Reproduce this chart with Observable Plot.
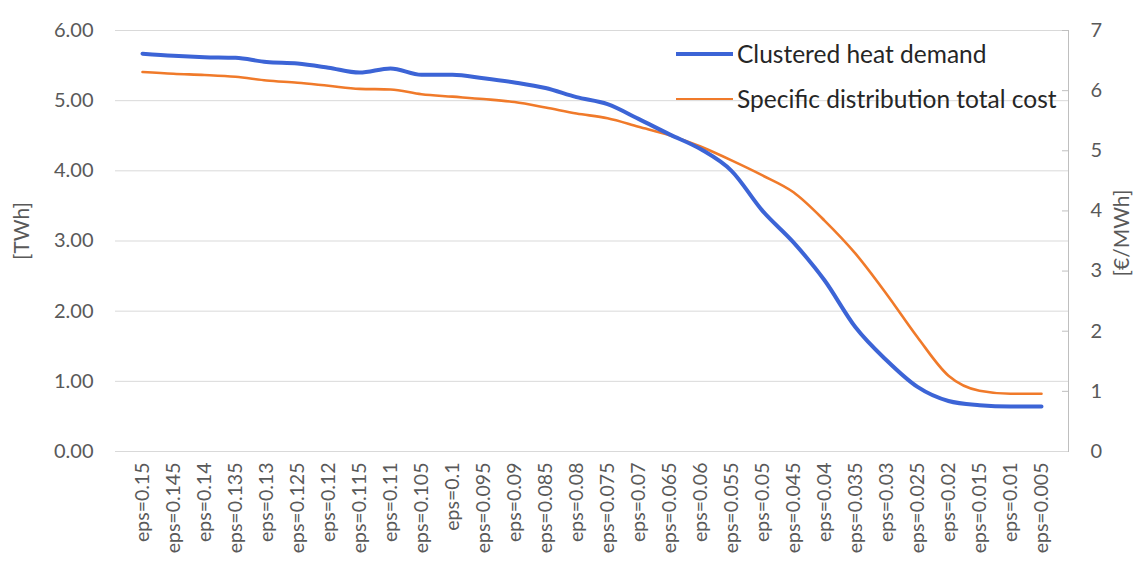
<!DOCTYPE html>
<html>
<head>
<meta charset="utf-8">
<script src="https://cdn.jsdelivr.net/npm/d3@7"></script>
<script src="https://cdn.jsdelivr.net/npm/@observablehq/plot@0.6"></script>
<style>
  html, body { margin: 0; padding: 0; background: #fff; }
  #wrap { position: relative; width: 1140px; height: 568px; font-family: Lato, "Noto Sans", sans-serif; }
  #legend { position: absolute; left: 676px; top: 31px; font-size: 24.5px; color: #262626; line-height: 45px; }
  #legend .row { display: flex; align-items: center; white-space: nowrap; }
  #legend .sw { display: inline-block; width: 57px; margin-right: 4px; }
</style>
</head>
<body>
<div id="wrap">
  <div id="chart"></div>
  <div id="legend"></div>
</div>
<script>
const categories = ["eps=0.15","eps=0.145","eps=0.14","eps=0.135","eps=0.13","eps=0.125","eps=0.12","eps=0.115","eps=0.11","eps=0.105","eps=0.1","eps=0.095","eps=0.09","eps=0.085","eps=0.08","eps=0.075","eps=0.07","eps=0.065","eps=0.06","eps=0.055","eps=0.05","eps=0.045","eps=0.04","eps=0.035","eps=0.03","eps=0.025","eps=0.02","eps=0.015","eps=0.01","eps=0.005"];
const heatDemand = [5.67,5.64,5.62,5.61,5.55,5.53,5.47,5.40,5.46,5.37,5.37,5.32,5.26,5.18,5.05,4.95,4.74,4.52,4.31,4.00,3.43,2.98,2.44,1.77,1.30,0.92,0.72,0.66,0.64,0.64];
const distCost = [6.31,6.28,6.26,6.23,6.17,6.13,6.08,6.03,6.02,5.94,5.90,5.86,5.81,5.72,5.62,5.54,5.40,5.26,5.07,4.84,4.59,4.31,3.84,3.29,2.62,1.90,1.26,1.01,0.96,0.96];
const leftTicks = [0,1,2,3,4,5,6];
const rightTicks = [0,1,2,3,4,5,6,7];
const seriesNames = ["Clustered heat demand","Specific distribution total cost"];
const colors = ["#3c64d6","#f07a2a"];

const LEFT_MAX = 6, RIGHT_MAX = 7;
const k = LEFT_MAX / RIGHT_MAX;
const rows = categories.map((c, i) => ({cat: c, heat: heatDemand[i], cost: distCost[i] * k}));

const axisFont = {fontSize: 20, fill: "#595959"};

const plot = Plot.plot({
  width: 1140,
  height: 568,
  marginLeft: 115,
  marginRight: 72,
  marginTop: 30,
  marginBottom: 117,
  style: {fontFamily: "Lato, 'Noto Sans', sans-serif", background: "#fff", color: "#595959"},
  x: {type: "point", domain: categories, padding: 0.5},
  y: {domain: [0, LEFT_MAX]},
  marks: [
    Plot.gridY(leftTicks, {stroke: "#d9d9d9", strokeOpacity: 1, strokeWidth: 1}),
    Plot.axisY(leftTicks, {anchor: "left", tickSize: 0, tickPadding: 22, tickFormat: d => d.toFixed(2), label: null, ...axisFont}),
    Plot.axisY(rightTicks.map(d => d * k), {anchor: "right", tickSize: 0, tickPadding: 22, tickFormat: d => String(Math.round(d / k)), label: null, ...axisFont}),
    Plot.tickY(rightTicks.map(d => d * k), {y: d => d, frameAnchor: "right", stroke: "#bfbfbf", insetLeft: 1140 - 115 - 72 - 6}),
    Plot.axisX({anchor: "bottom", tickSize: 0, tickPadding: 11, tickRotate: -90, label: null, fontSize: 19.5, fill: "#595959"}),
    Plot.ruleY([0], {stroke: "#d9d9d9"}),
    Plot.frame({anchor: "right", stroke: "#bfbfbf"}),
    Plot.text(["[TWh]"], {frameAnchor: "left", textAnchor: "middle", dx: -93, dy: -10, rotate: -90, fontSize: 21, fill: "#595959"}),
    Plot.text(["[€/MWh]"], {frameAnchor: "right", textAnchor: "middle", dx: 54, dy: -8, rotate: -90, fontSize: 21, fill: "#595959"}),
    Plot.line(rows, {x: "cat", y: "cost", stroke: colors[1], strokeWidth: 2.6, curve: "monotone-x"}),
    Plot.line(rows, {x: "cat", y: "heat", stroke: colors[0], strokeWidth: 4, curve: "monotone-x"})
  ]
});
document.getElementById("chart").appendChild(plot);

const legend = document.getElementById("legend");
seriesNames.forEach((name, i) => {
  const row = document.createElement("div");
  row.className = "row";
  const sw = document.createElement("span");
  sw.className = "sw";
  sw.style.borderTop = (i === 0 ? 4 : 2.6) + "px solid " + colors[i];
  row.appendChild(sw);
  row.appendChild(document.createTextNode(name));
  legend.appendChild(row);
});
</script>
</body>
</html>
